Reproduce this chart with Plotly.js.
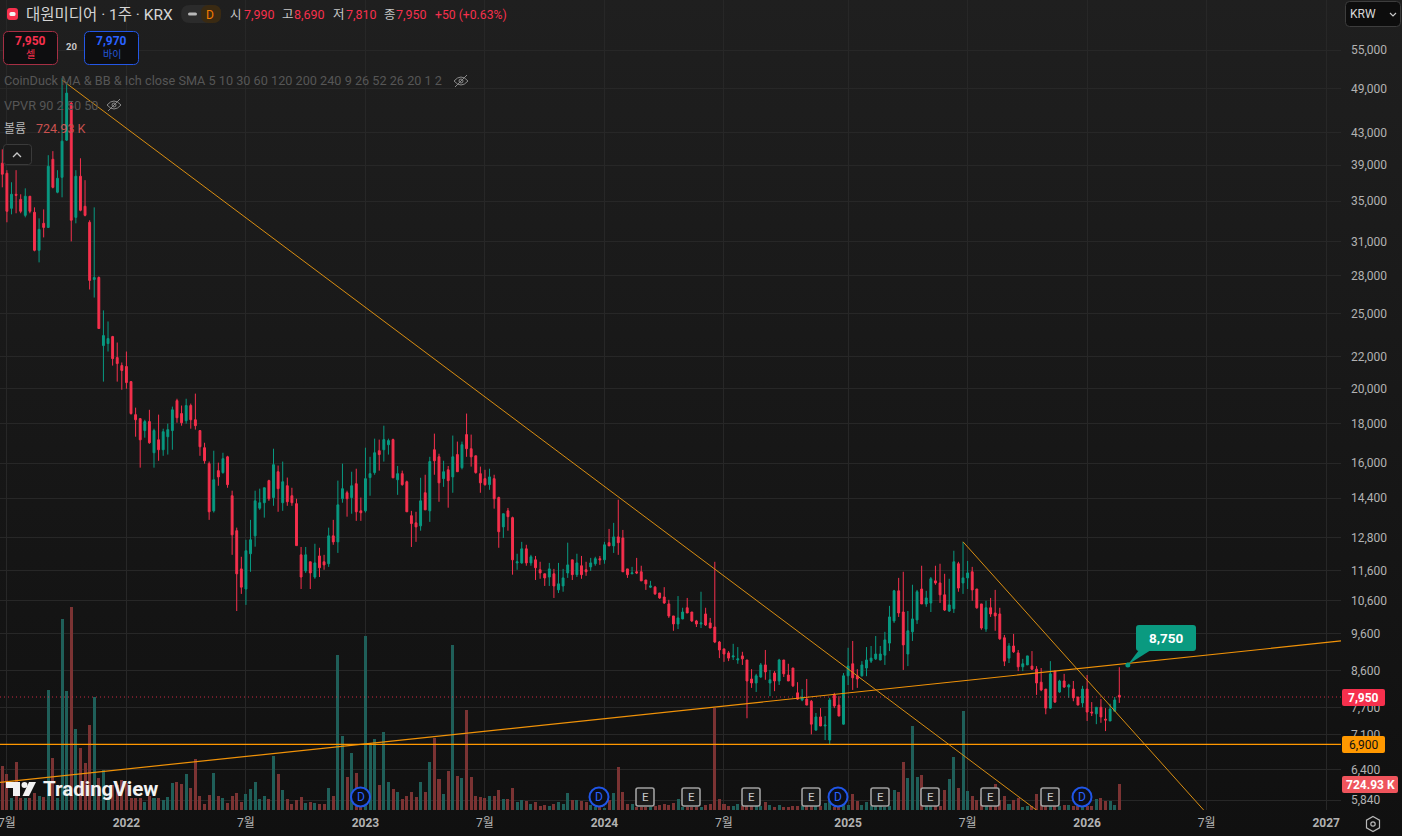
<!DOCTYPE html>
<html>
<head>
<meta charset="utf-8">
<script src="https://cdn.plot.ly/plotly-3.0.1.min.js"></script>
<style>
html,body{margin:0;padding:0;width:1402px;height:836px;overflow:hidden;background:linear-gradient(#1f1f1f,#101010);}
#chart{width:1402px;height:836px;}
</style>
</head>
<body>
<div id="chart"></div>
<script>
const firstWeek = "2021-06-21";
const opens = [
39210,38050,34260,35730,35190,33550,35520,33860,30220,32760,
32360,39670,35950,37590,42010,46930,33350,37710,34470,32860,
27690,27860,22730,22870,23350,21930,21410,21350,20410,18490,
18270,17630,18110,16500,17150,16650,17310,17630,19280,18550,
18160,19000,18210,17630,16750,15970,13870,15640,15550,16300,
14510,13070,11660,10980,12200,12870,13980,14210,15180,14430,
15590,14210,14950,14510,14170,12160,11590,11910,11380,12120,
11910,11840,12870,12640,14380,14640,14430,15040,13870,13870,
15320,15550,16600,16650,16900,17160,15220,15500,15130,13670,
13380,13260,14640,13870,16650,16300,15270,15680,15350,16410,
15780,17420,16700,16350,15500,15270,15000,15270,14430,13220,
13870,13590,11870,11870,12380,11870,11980,11630,11490,11380,
11490,10950,11080,11520,11980,11460,11770,11630,11730,11840,
12020,11980,12610,12490,12830,12790,11660,11490,11560,11560,
11280,11040,11040,10850,10720,10500,10130,9890,10040,10380,
10250,9980,9890,10190,9920,9800,9370,9180,9070,8960,
8880,8990,8880,8390,8290,8440,8750,8290,8540,8340,
8880,8490,8670,8050,7880,7900,7850,7200,7490,7290,
6990,8000,7760,7330,8470,8780,8470,8470,8670,8850,
8910,8880,9010,9340,9980,10920,10250,9040,9660,10010,
10980,10500,10530,11250,11180,10790,10280,10350,11840,11180,
11350,11560,10980,10500,9740,10380,10220,10190,9490,8930,
9260,9070,8700,8750,8720,8640,8310,8140,7690,8590,
8070,8340,8190,8140,7950,7810,8140,7600,7560,7710,
7440,7400,7620,7990];
const highs = [
40870,38400,37040,38400,35730,36370,35520,34360,33250,34150,
40160,40650,38400,50560,49970,47100,38400,39790,37270,33060,
34360,27950,25250,24430,23400,22940,21610,22330,20410,18880,
18300,18210,18760,17730,18490,17730,18000,18940,19390,19000,
19390,19110,19690,17630,17000,16070,16600,16020,16500,16350,
14730,13190,12090,12720,13500,14730,14820,14860,15220,16700,
15880,16070,15320,14860,14380,12450,12450,11910,12570,12420,
12160,13190,13500,15180,15970,14730,15590,15730,14430,16750,
16300,17210,17160,17890,17210,17210,15860,15640,15180,13870,
13830,15310,15450,16300,17470,16450,16110,15860,17370,17060,
17060,18550,17420,16350,15830,15680,15730,15450,14470,13750,
13990,13630,12200,12640,12530,12160,12120,11910,11490,11870,
11660,11870,11660,12610,11980,12200,12120,11910,12050,12090,
12120,12640,13140,13380,14340,13100,11660,11730,12050,11770,
11280,11250,11080,10850,11040,10630,10130,10750,10380,10690,
10250,10010,10890,10380,10070,11910,9400,9180,9120,9320,
9230,9100,8880,8640,8520,8800,9150,8620,8590,8910,
8880,8780,8670,8310,8140,8390,7880,7580,7690,7510,
7930,8050,7970,8540,9210,9400,8640,8850,9230,9260,
9540,9260,9660,10440,10950,11350,11560,10280,11120,10950,
11770,10920,11380,11770,11840,11490,11320,12310,11910,12640,
11940,11730,10980,10500,10600,10690,10950,10380,9570,9340,
9600,9150,8910,8990,9120,8720,8670,8140,8850,8590,
8370,8520,8270,8340,7950,8220,8490,7830,7710,7900,
7690,7790,7950,8690];
const lows = [
36480,32860,33650,33760,33760,33350,33760,30130,29150,31410,
32300,36370,35840,35410,41900,31040,32760,33960,33450,26880,
26240,23900,20410,22330,21410,20410,19920,19980,18490,17310,
15780,17260,16950,15780,16110,16350,16410,16650,18050,17890,
18000,17730,17680,16350,15970,13500,13800,14950,15500,14860,
12160,10280,10820,10470,11560,12460,13910,13590,14290,14080,
13830,13870,14080,14080,12500,10980,11520,10980,11320,11380,
11630,11730,12530,12230,14210,13630,13750,13460,13460,13800,
14510,15450,15640,16070,16410,15290,14550,14950,13830,12450,
12640,13070,13910,13420,15450,14250,14900,14000,14640,15590,
15700,16300,15830,15500,14640,14950,14770,13960,12420,12790,
13070,11460,11630,11840,11770,11770,11280,11320,11080,11080,
10690,10850,10890,11350,11280,11380,11320,11420,11590,11770,
11800,11840,12490,12230,12160,11560,11350,11480,11480,11250,
10950,11010,10790,10660,10500,10070,9690,9740,10030,10220,
9950,9800,9770,9830,9770,9340,8930,8830,8850,8880,
8780,8750,7460,8170,8070,8420,8370,7970,8090,8240,
8440,8340,8190,7880,7850,7760,7110,7200,7290,6990,
6890,7690,7510,7320,8240,8120,8170,8450,8460,8800,
8880,8870,8750,9120,9920,10100,8620,8720,9400,9890,
10500,10410,10250,11120,10530,10280,10250,10220,10890,10820,
10980,10600,10350,9720,9660,10100,9690,9430,8720,8800,
9070,8590,8590,8750,8620,8000,8090,7550,7670,7810,
8050,8170,7930,7850,7760,7710,7400,7510,7330,7360,
7180,7400,7620,7810];
const closes = [
37940,33960,35730,35620,33960,35520,33960,30220,32170,32360,
38850,36480,37480,41880,48350,33060,37710,34060,33550,27620,
27860,23920,23420,23210,21860,21540,21100,20350,18550,18210,
17150,18110,17000,17630,16650,17570,17680,18760,18320,18050,
19000,18210,17890,16800,16110,13830,15220,15350,16210,15000,
12910,11490,11040,12310,12720,14290,14210,14860,14380,15920,
14820,15130,14250,14210,12500,11380,12160,11520,11870,11700,
11800,12870,12640,14120,14820,14380,14950,13830,13790,15270,
15500,16500,16410,17160,17110,15310,15500,15000,13830,13350,
13220,14290,13910,16070,16110,15080,15590,15180,16300,15590,
16900,16700,16300,15550,15080,15000,15350,14380,13030,13750,
13630,11980,11910,12380,11870,12090,11700,11520,11350,11660,
11080,11150,11350,11800,11460,11870,11460,11560,11870,12020,
11980,12530,12490,12830,12610,11560,11460,11520,11520,11250,
11150,11080,10820,10690,10530,10130,9890,10070,10250,10220,
9980,9890,9920,9860,9770,9370,9150,9040,8930,8990,
8910,8910,8340,8290,8470,8750,8570,8370,8340,8880,
8520,8340,8220,7900,7950,7760,7330,7490,7290,7310,
7880,7740,7510,8470,8720,8420,8390,8750,8880,8930,
9040,9040,9430,10100,10920,10220,9290,9690,10040,10890,
10500,10690,11320,11180,10790,10310,10470,11910,11010,11350,
11520,10950,10380,9770,10380,10190,10130,9460,8850,9260,
9100,8700,8780,8990,8640,8290,8120,7690,8520,7830,
8340,8190,8240,7930,7760,8140,7600,7580,7710,7490,
7420,7670,7880,7950];
const volumesK = [
1226,1003,334,1338,334,334,334,474,390,362,
3344,1449,334,5323,3317,5658,2257,1728,1310,2369,
3149,892,1115,372,697,697,836,743,334,334,
334,223,390,334,334,279,362,752,780,725,
1003,613,1421,390,167,418,1031,390,334,195,
390,474,223,446,585,780,307,390,307,1505,
1003,557,307,167,279,362,195,223,195,167,
167,613,390,4320,2062,920,1589,1031,372,4849,
1839,1979,697,2174,780,585,502,307,390,502,
362,780,502,1338,2007,864,446,1087,4599,948,
892,2787,920,390,362,334,390,390,557,307,
307,613,223,279,251,167,223,111,139,111,
167,223,167,474,279,279,251,223,139,93,
93,46,279,474,1198,502,167,167,74,74,
74,74,111,139,167,139,195,307,84,74,
74,74,74,139,167,2843,307,167,111,111,
167,111,150,100,100,100,223,139,84,139,
84,84,111,111,100,100,100,100,100,195,
251,74,100,250,150,446,251,139,223,100,
100,100,74,100,557,502,1338,892,2341,920,
975,100,100,100,100,557,864,1477,613,2759,
530,390,279,362,100,100,725,279,390,167,
279,334,84,111,111,446,279,100,150,100,
111,139,139,111,100,100,100,100,307,334,
251,251,139,724.93];

const priceTicks = [55000,49000,43000,39000,35000,31000,28000,25000,22000,20000,18000,16000,14400,12800,11600,10600,9600,8600,7700,7100,6400,5840];
const timeTickDates = ["2021-06-28","2021-12-27","2022-06-27","2022-12-26","2023-06-26","2023-12-25","2024-06-24","2024-12-30","2025-06-30","2025-12-29","2026-06-29","2026-12-28"];
const timeTickLabels = ["7월","<b>2022</b>","7월","<b>2023</b>","7월","<b>2024</b>","7월","<b>2025</b>","7월","<b>2026</b>","7월","<b>2027</b>"];
const xRange = ["2021-06-17 12:00","2027-01-19 14:00"];

const longDownDates = ["2021-09-20","2025-10-15"];
const longDownPrices = [50275,5651];
const risingDates = ["2021-06-17 12:00","2027-01-19 14:00"];
const risingPrices = [6160,9400];
const shortDownDates = ["2025-06-23","2026-06-26"];
const shortDownPrices = [12643,5651];
const supportPrice = 6900;
const lastPrice = 7950;
const calloutDate = "2026-03-01";
const calloutPrice = 8750;
const dividendX = [360.5,599,838,1082];
const earningsX = [645,691,751,811,880,930,990,1050];

const UP = "#089981", DOWN = "#f6304d", UPV = "#1f5f59", DOWNV = "#7b3333";
const FONT = 'Roboto, "Noto Sans CJK KR", sans-serif';
const PW = 1341, PH = 810;
const fx = x => x / PW, fy = y => 1 - y / PH;

const weeks = opens.map((_, i) => {
  const d = new Date(firstWeek + "T00:00:00Z");
  d.setUTCDate(d.getUTCDate() + 7 * i);
  return d.toISOString().slice(0, 10);
});
const volColors = opens.map((o, i) => closes[i] >= o ? UPV : DOWNV);

const traces = [
  {type: "bar", x: weeks, y: volumesK, yaxis: "y", marker: {color: volColors, line: {width: 0}},
   width: 4.6 * 86400000, hoverinfo: "skip"},
  {type: "candlestick", x: weeks, open: opens, high: highs, low: lows, close: closes, yaxis: "y2",
   increasing: {line: {color: UP, width: 1}, fillcolor: UP},
   decreasing: {line: {color: DOWN, width: 1}, fillcolor: DOWN},
   whiskerwidth: 0, hoverinfo: "skip"},
  {type: "scatter", mode: "lines", x: xRange, y: [lastPrice, lastPrice], yaxis: "y2",
   line: {color: "rgba(246,48,77,0.8)", width: 1, dash: "1px,3px"}, hoverinfo: "skip"},
  {type: "scatter", mode: "lines", x: longDownDates, y: longDownPrices, yaxis: "y2",
   line: {color: "#d98e12", width: 1}, hoverinfo: "skip"},
  {type: "scatter", mode: "lines", x: shortDownDates, y: shortDownPrices, yaxis: "y2",
   line: {color: "#d98e12", width: 1}, hoverinfo: "skip"},
  {type: "scatter", mode: "lines", x: risingDates, y: risingPrices, yaxis: "y2",
   line: {color: "#f09208", width: 1.2}, hoverinfo: "skip"},
  {type: "scatter", mode: "lines", x: xRange, y: [supportPrice, supportPrice], yaxis: "y2",
   line: {color: "#ff9800", width: 1.2}, hoverinfo: "skip"},
  {type: "scatter", mode: "markers", x: [calloutDate], y: [calloutPrice], yaxis: "y2",
   marker: {color: UP, size: 5}, hoverinfo: "skip"}
];

const shapes = [], annotations = [];
function pts(list, close) {
  return list.map((p, i) => (i ? "L" : "M") + fx(p[0]) + "," + fy(p[1])).join(" ") + (close ? " Z" : "");
}
function rr(x0, y0, x1, y1, r) {
  const P = (x, y) => fx(x) + "," + fy(y);
  return "M" + P(x0 + r, y0) + " L" + P(x1 - r, y0) + " Q" + P(x1, y0) + " " + P(x1, y0 + r) +
    " L" + P(x1, y1 - r) + " Q" + P(x1, y1) + " " + P(x1 - r, y1) +
    " L" + P(x0 + r, y1) + " Q" + P(x0, y1) + " " + P(x0, y1 - r) +
    " L" + P(x0, y0 + r) + " Q" + P(x0, y0) + " " + P(x0 + r, y0) + " Z";
}
function addPath(path, fill, line, lw) {
  shapes.push({type: "path", xref: "paper", yref: "paper", path,
    fillcolor: fill || "rgba(0,0,0,0)", line: {color: line || "rgba(0,0,0,0)", width: lw || 0}});
}
function box(x0, y0, x1, y1, r, fill, line, lw) { addPath(rr(x0, y0, x1, y1, r), fill, line, lw); }
function disc(cx, cy, rad, fill, line, lw) {
  shapes.push({type: "circle", xref: "paper", yref: "paper", x0: fx(cx - rad), x1: fx(cx + rad), y0: fy(cy + rad), y1: fy(cy - rad),
    fillcolor: fill || "rgba(0,0,0,0)", line: {color: line || "rgba(0,0,0,0)", width: lw || 0}});
}
function label(x, y, text, color, size, anchor) {
  annotations.push({xref: "paper", yref: "paper", x: fx(x), y: fy(y), text, showarrow: false,
    xanchor: anchor || "left", yanchor: "middle", borderpad: 0,
    font: {family: FONT, color, size}});
}
function eye(cx, cy) {
  const c = "#8a8a8a";
  addPath("M" + fx(cx - 7) + "," + fy(cy) + " Q" + fx(cx) + "," + fy(cy - 8) + " " + fx(cx + 7) + "," + fy(cy) +
          " Q" + fx(cx) + "," + fy(cy + 8) + " " + fx(cx - 7) + "," + fy(cy), null, c, 1);
  disc(cx, cy, 2, null, c, 1);
  addPath(pts([[cx - 6, cy + 6], [cx + 6, cy - 6]]), null, c, 1);
}

// header
box(7, 8, 18, 20, 3, "#f6304d");
box(9.5, 12, 15.5, 16, 1.5, "#f4f4f4");
label(25, 15, "대원미디어 · 1주 · KRX", "#d4d4d4", 15.5);
box(181, 5, 221, 23, 9, "#2b2b2b");
addPath(rr(201, 5, 221, 23, 8), "#3a2a12");
box(188, 12.5, 197, 15.5, 1.5, "#b8b8b8");
label(210, 14.5, "D", "#f57c00", 12, "center");
const legendBits = [[229,"시","#c8c8c8"],[243,"7,990",DOWN],[281,"고","#c8c8c8"],[293,"8,690",DOWN],[332,"저","#c8c8c8"],[345,"7,810",DOWN],[383,"종","#c8c8c8"],[395,"7,950",DOWN],[434,"+50 (+0.63%)",DOWN]];
legendBits.forEach((b, i) => label(b[0], 15, b[1], b[2], i === 8 ? 12.2 : 12.5));

// buy / sell chips
box(3.5, 31.5, 57.5, 64.5, 5, "#0e0e10", "#a52f44", 1);
label(30.5, 41, "<b>7,950</b>", DOWN, 12, "center");
label(30.5, 54.5, "셀", DOWN, 10, "center");
label(71, 47, "<b>20</b>", "#c8c8c8", 9.5, "center");
box(84.5, 31.5, 138.5, 64.5, 5, "#0e0e10", "#2457e6", 1);
label(111.5, 41, "<b>7,970</b>", "#2962ff", 12, "center");
label(111.5, 54.5, "바이", "#2457d6", 10, "center");

// indicator legend
label(3, 81, "CoinDuck MA &amp; BB &amp; Ich close SMA 5 10 30 60 120 200 240 9 26 52 26 20 1 2", "#565656", 12.7);
eye(461, 81);
label(3, 105, "VPVR 90 2 50 50", "#565656", 12.7);
eye(114, 105);
label(3, 129, "볼륨", "#b8b8b8", 12);
label(35, 129, "724.93 K", "#c9514f", 12.5);
box(3.5, 144.5, 31.5, 164.5, 3, "#1a1a1a", "#3a3a3a", 1);
addPath(pts([[13, 157], [17, 153], [21, 157]]), null, "#c8c8c8", 1.3);

// currency selector
box(1345.5, 1.5, 1400.5, 26.5, 4, "#0d0d0d", "#3d3d3d", 1);
label(1349, 14, "KRW", "#d8d8d8", 12);
addPath(pts([[1390, 13], [1393, 16], [1396, 13]]), null, "#c8c8c8", 1.2);

// callout
addPath(pts([[1128, 664.5], [1139, 650], [1151, 650]], true), UP);
box(1136, 625, 1196, 651, 3, "#0a9a80");
label(1166, 638, "<b>8,750</b>", "#ffffff", 13.5, "center");

// right tags
box(1342, 689, 1385, 706, 2, "#f6304d");
label(1363.5, 697.5, "<b>7,950</b>", "#ffffff", 12, "center");
box(1342, 736, 1385, 753, 2, "#ff9800");
label(1363.5, 744.5, "6,900", "#111111", 12, "center");
box(1342, 776, 1398, 793, 2, "#ef545c");
label(1370, 784.5, "<b>724.93 K</b>", "#ffffff", 12, "center");

// settings
const hex = [[1373, 816.5], [1379.5, 820.2], [1379.5, 827.8], [1373, 831.5], [1366.5, 827.8], [1366.5, 820.2]];
addPath(pts(hex, true), null, "#b8b8b8", 1.2);
disc(1373, 824, 2.2, null, "#b8b8b8", 1.2);

// event markers
dividendX.forEach(x => {
  disc(x, 797, 9.5, "#0b0d16", "#2056e8", 2);
  label(x, 797, "D", "#2962ff", 12, "center");
});
earningsX.forEach(x => {
  box(x - 9, 788, x + 9, 806, 2, "#1a1a1a", "#a0a0a0", 1.6);
  label(x, 797, "E", "#c9c9c9", 11.5, "center");
});

// TradingView mark
addPath(pts([[6, 782], [20, 782], [20, 796], [13, 796], [13, 788], [6, 788]], true), "#f2f2f2");
disc(24.5, 785, 3, "#f2f2f2");
addPath(pts([[29, 782], [36, 782], [29, 796], [22.5, 796]], true), "#f2f2f2");
label(42, 789, "<b>TradingView</b>", "#f2f2f2", 20.5);

// first time label sits at the left edge, where the axis would drop it
label(7, 822.5, "7월", "#b2b2b2", 12, "center");

const layout = {
  width: 1402, height: 836,
  margin: {l: 0, r: 61, t: 0, b: 26, pad: 0},
  paper_bgcolor: "rgba(0,0,0,0)", plot_bgcolor: "rgba(0,0,0,0)",
  showlegend: false, dragmode: false, bargap: 0, boxgap: 0.42,
  font: {family: FONT, color: "#b2b2b2", size: 12},
  xaxis: {type: "date", range: xRange, tickmode: "array", tickvals: timeTickDates, ticktext: timeTickLabels,
    showgrid: true, gridcolor: "#272727", gridwidth: 1, zeroline: false, showline: false, ticks: "",
    ticklabelstandoff: 4,
    tickfont: {family: FONT, color: "#b2b2b2", size: 12}, rangeslider: {visible: false}, fixedrange: true},
  yaxis: {range: [0, 22583], visible: false, showgrid: false, zeroline: false, fixedrange: true},
  yaxis2: {type: "log", range: [3.75366, 4.80528], overlaying: "y", side: "right", anchor: "x",
    tickmode: "array", tickvals: priceTicks, ticktext: priceTicks.map(v => v.toLocaleString("en-US")),
    showgrid: true, gridcolor: "#272727", gridwidth: 1, zeroline: false, showline: false, ticks: "",
    ticklabelposition: "outside", ticklabelstandoff: 9,
    tickfont: {family: FONT, color: "#b2b2b2", size: 12}, fixedrange: true},
  shapes, annotations
};
Plotly.newPlot("chart", traces, layout, {displayModeBar: false, staticPlot: true});
</script>
</body>
</html>
